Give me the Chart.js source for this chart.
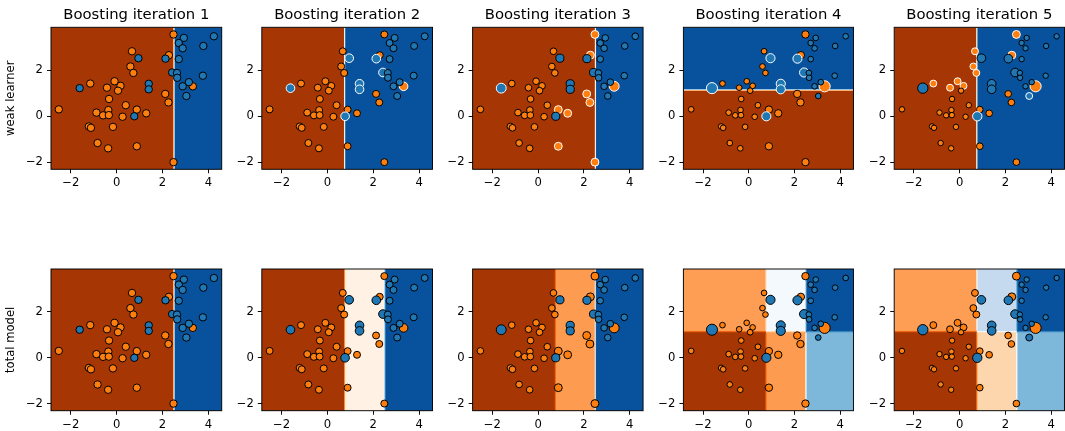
<!DOCTYPE html>
<html>
<head>
<meta charset="utf-8">
<script src="https://cdn.jsdelivr.net/npm/chart.js@4/dist/chart.umd.min.js"></script>
<style>
  html, body { margin: 0; padding: 0; background: #fff; }
  #fig { position: relative; width: 1065px; height: 431px; overflow: hidden; background: #fff; }
  #fig canvas { position: absolute; }
</style>
</head>
<body>
<div id="fig"></div>
<script>
// ---- data -------------------------------------------------------------
const xTicks = [-2, 0, 2, 4];
const yTicks = [-2, 0, 2];
const xRange = [-2.86, 4.58];
const yRange = [-2.30, 3.86];

// training samples (first 30: class 0 / orange, last 19: class 1 / blue)
const sampleX = [2.48, 0.67, 2.28, 0.60, 0.73, -1.15, -0.09, 0.17, -0.42, 0.06,
                 3.32, 2.12, 2.26, -0.33, 0.40, -2.52, -0.88, -0.36, -0.59, -0.34,
                 0.26, 0.88, 1.29, -1.21, -1.12, -0.16, -0.83, 0.88, -0.37, 2.48,
                 -1.61, 0.95, 2.13, 2.42, 2.63, 2.64, 3.15, 2.88, 3.04, 1.40,
                 1.40, 0.77, 2.93, 2.71, 2.88, 2.71, 3.78, 4.24, 3.76];
const sampleY = [3.55, 2.82, 2.65, 2.16, 1.88, 1.42, 1.52, 1.32, 1.24, 1.11,
                 1.30, 0.97, 0.60, 0.75, 0.48, 0.30, 0.16, 0.27, 0.04, 0.05,
                 -0.02, 0.29, 0.13, -0.44, -0.50, -0.46, -1.16, -1.30, -1.39, -1.99,
                 1.22, 2.52, 2.50, 1.90, 1.88, 1.67, 1.48, 1.30, 0.88, 1.41,
                 1.17, 0.00, 3.40, 3.18, 2.95, 2.48, 3.05, 3.47, 1.76];
const sampleClass = [0,0,0,0,0,0,0,0,0,0, 0,0,0,0,0,0,0,0,0,0, 0,0,0,0,0,0,0,0,0,0,
                     1,1,1,1,1,1,1,1,1,1, 1,1,1,1,1,1,1,1,1];

// relative sample weights at the start of each boosting iteration
const weights1 = Array.from({ length: 49 }, () => 1);
const weights2 = [0.89,0.89,0.89,0.89,0.89,0.89,0.89,0.89,0.89,0.89,
                  1.36,0.89,0.89,0.89,0.89,0.89,0.89,0.89,0.89,0.89,
                  0.89,0.89,0.89,0.89,0.89,0.89,0.89,0.89,0.89,0.89,
                  1.36,1.36,1.36,1.36,0.89,0.89,0.89,0.89,0.89,1.36,
                  1.36,1.36,0.89,0.89,0.89,0.89,0.89,0.89,0.89];
const weights3 = [1.14,0.81,1.14,0.81,0.81,0.81,0.81,0.81,0.81,0.81,
                  1.78,1.14,1.14,0.81,0.81,0.81,0.81,0.81,0.81,0.81,
                  0.81,1.14,1.14,0.81,0.81,0.81,0.81,1.14,0.81,1.14,
                  1.78,1.21,1.21,1.21,0.81,0.81,0.81,0.81,0.81,1.21,
                  1.21,1.21,0.81,0.81,0.81,0.81,0.81,0.81,0.81];
const weights4 = [1.00,0.59,1.00,0.59,0.59,0.59,0.59,0.59,0.59,0.59,
                  2.25,1.00,1.00,0.59,0.59,0.59,0.59,0.59,0.59,0.59,
                  0.59,1.00,1.00,0.59,0.59,0.59,0.59,1.00,0.59,1.00,
                  2.25,1.52,1.52,1.52,0.59,0.59,0.59,0.59,0.59,1.52,
                  1.52,1.52,0.59,0.59,0.59,0.59,0.59,0.59,0.59];
const weights5 = [1.14,0.87,1.14,0.87,0.87,0.87,0.87,0.87,0.87,0.54,
                  2.25,0.81,0.81,0.54,0.54,0.54,0.54,0.54,0.54,0.54,
                  0.54,0.81,0.81,0.54,0.54,0.54,0.54,0.81,0.54,0.81,
                  1.96,1.36,1.36,1.36,0.54,0.54,0.54,0.54,0.87,1.36,
                  1.36,1.60,0.54,0.54,0.54,0.54,0.54,0.54,0.54];
const roundWeights = [weights1, weights2, weights3, weights4, weights5];

// decision stumps: split feature (0 = x, 1 = y) and threshold; class 1 above
const stumpFeature = [0, 0, 0, 1, 0];
const stumpThreshold = [2.5, 0.75, 2.5, 1.14, 0.75];

// ensemble decision function: cell edges and normalized scores (rows bottom→top)
const modelXEdges = [[2.5], [0.75, 2.5], [0.75, 2.5], [0.75, 2.5], [0.75, 2.5]];
const modelYEdges = [[], [], [], [1.14], [1.14]];
const modelScores = [
  [[-1, 1]],
  [[-1, -0.03, 1]],
  [[-1, -0.51, 1]],
  [[-1, -0.51, 0.52], [-0.5, 0.02, 1]],
  [[-1, -0.25, 0.52], [-0.5, 0.29, 1]]
];

const rowNames = ['weak learner', 'total model'];

// ---- colours ------------------------------------------------------------
const ORANGES = [[255,245,235],[254,230,206],[253,208,162],[253,174,107],[253,141,60],
                 [241,105,19],[217,72,1],[166,54,3],[127,39,4]];
const BLUES = [[247,251,255],[222,235,247],[198,219,239],[158,202,225],[107,174,214],
               [66,146,198],[33,113,181],[8,81,156],[8,48,107]];
function ramp(stops, t) {
  const p = t * (stops.length - 1);
  const i = Math.min(Math.floor(p), stops.length - 2);
  const f = p - i;
  return stops[i].map((c, k) => Math.round(c + (stops[i + 1][k] - c) * f));
}
function scoreColor(s) {
  const t = Math.min(Math.abs(s), 1) * 0.875;
  const c = s < 0 ? ramp(ORANGES, t) : ramp(BLUES, t);
  return 'rgb(' + c.join(',') + ')';
}
const CLASS_COLORS = ['#ff7f0e', '#1f77b4'];

// ---- plugins ------------------------------------------------------------
const regionPlugin = {
  id: 'regions',
  beforeDatasetsDraw(chart, args, opts) {
    const R = opts.region;
    if (!R) return;
    const { ctx, chartArea: a, scales: { x, y } } = chart;
    ctx.save();
    ctx.beginPath();
    ctx.rect(a.left, a.top, a.width, a.height);
    ctx.clip();
    const xb = [xRange[0], ...R.xEdges, xRange[1]];
    const yb = [yRange[0], ...R.yEdges, yRange[1]];
    for (let j = 0; j < yb.length - 1; j++) {
      for (let i = 0; i < xb.length - 1; i++) {
        const x0 = x.getPixelForValue(xb[i]), x1 = x.getPixelForValue(xb[i + 1]);
        const y0 = y.getPixelForValue(yb[j + 1]), y1 = y.getPixelForValue(yb[j]);
        ctx.fillStyle = scoreColor(R.scores[j][i]);
        ctx.fillRect(x0, y0, x1 - x0 + 0.6, y1 - y0 + 0.6);
      }
    }
    // soft transitions where neighbouring cells meet
    const half = 0.05, n = 8;
    R.xEdges.forEach((e, i) => {
      for (let j = 0; j < yb.length - 1; j++) {
        const sA = R.scores[j][i], sB = R.scores[j][i + 1];
        const p0 = x.getPixelForValue(e - half), p1 = x.getPixelForValue(e + half);
        const g = ctx.createLinearGradient(p0, 0, p1, 0);
        for (let k = 0; k <= n; k++) g.addColorStop(k / n, scoreColor(sA + (sB - sA) * k / n));
        ctx.fillStyle = g;
        const q0 = y.getPixelForValue(yb[j + 1]), q1 = y.getPixelForValue(yb[j]);
        ctx.fillRect(p0, q0, p1 - p0, q1 - q0);
      }
    });
    R.yEdges.forEach((e, j) => {
      for (let i = 0; i < xb.length - 1; i++) {
        const sA = R.scores[j][i], sB = R.scores[j + 1][i];
        const p0 = y.getPixelForValue(e - half), p1 = y.getPixelForValue(e + half);
        const g = ctx.createLinearGradient(0, p0, 0, p1);
        for (let k = 0; k <= n; k++) g.addColorStop(k / n, scoreColor(sA + (sB - sA) * k / n));
        ctx.fillStyle = g;
        const q0 = x.getPixelForValue(xb[i]), q1 = x.getPixelForValue(xb[i + 1]);
        ctx.fillRect(q0, p1, q1 - q0, p0 - p1);
      }
    });
    ctx.restore();
  },
  afterDatasetsDraw(chart) {
    const { ctx, chartArea: a } = chart;
    ctx.save();
    ctx.strokeStyle = '#000';
    ctx.lineWidth = 0.95;
    ctx.strokeRect(a.left, a.top, a.width, a.height);
    ctx.restore();
  }
};

function tickText(v) { return v < 0 ? '\u2212' + Math.abs(v) : String(v); }

// ---- layout -------------------------------------------------------------
const PLOT_LEFT0 = 51, PITCH = 210.8, PLOT_W = 170.7;
const ROWS = [
  { canvasTop: 0, canvasH: 195, plotTop: 27.3, plotBottom: 169.3 },
  { canvasTop: 240, canvasH: 191, plotTop: 269, plotBottom: 410.7 }
];
const fig = document.getElementById('fig');
const FONT = 'DejaVu Sans';

function regionFor(row, k) {
  if (row === 0) {
    const t = stumpThreshold[k];
    return stumpFeature[k] === 0
      ? { xEdges: [t], yEdges: [], scores: [[-1, 1]] }
      : { xEdges: [], yEdges: [t], scores: [[-1], [1]] };
  }
  return { xEdges: modelXEdges[k], yEdges: modelYEdges[k], scores: modelScores[k] };
}

for (let row = 0; row < 2; row++) {
  for (let k = 0; k < 5; k++) {
    const R = ROWS[row];
    const plotLeft = PLOT_LEFT0 + PITCH * k;
    const canvasLeft = Math.floor(plotLeft) - 51;
    const yW = plotLeft - canvasLeft;
    const canvasW = 228;
    const padRight = canvasW - yW - PLOT_W;
    const xH = R.canvasH - (R.plotBottom - R.canvasTop);
    const padTop = row === 0 ? 0 : R.plotTop - R.canvasTop;

    const cv = document.createElement('canvas');
    cv.width = canvasW; cv.height = R.canvasH;
    cv.style.left = canvasLeft + 'px'; cv.style.top = R.canvasTop + 'px';
    cv.style.width = canvasW + 'px'; cv.style.height = R.canvasH + 'px';
    fig.appendChild(cv);

    const w = roundWeights[k];
    const pts = sampleX.map((vx, i) => ({ x: vx, y: sampleY[i] }));
    const fill = sampleClass.map(c => CLASS_COLORS[c]);
    const radius = w.map(v => 3.7 * Math.sqrt(v));
    // top row: samples the previous stump got wrong are outlined in white
    const edge = sampleClass.map((c, i) => {
      if (row === 1 || k === 0) return '#000';
      const f = stumpFeature[k - 1];
      const v = f === 0 ? sampleX[i] : sampleY[i];
      const pred = v > stumpThreshold[k - 1] ? 1 : 0;
      return pred !== c ? '#fff' : '#000';
    });

    new Chart(cv, {
      type: 'scatter',
      data: {
        datasets: [{
          data: pts,
          pointRadius: radius,
          pointHoverRadius: radius,
          pointBackgroundColor: fill,
          pointBorderColor: edge,
          pointBorderWidth: 1,
          showLine: false
        }]
      },
      options: {
        responsive: false,
        animation: false,
        events: [],
        layout: { padding: { top: padTop, right: padRight, left: 0, bottom: 0 } },
        plugins: {
          legend: { display: false },
          tooltip: { enabled: false },
          title: {
            display: row === 0,
            fullSize: false,
            text: 'Boosting iteration ' + (k + 1),
            color: '#000',
            font: { family: FONT, size: 14.8, weight: 'normal' },
            padding: { top: 6.4, bottom: 3.14 }
          },
          regions: { region: regionFor(row, k) }
        },
        scales: {
          x: {
            type: 'linear', min: xRange[0], max: xRange[1],
            afterBuildTicks(s) { s.ticks = xTicks.map(v => ({ value: v })); },
            afterFit(s) { s.height = xH; },
            border: { display: false },
            grid: { display: true, drawOnChartArea: false, drawTicks: true, tickLength: 4, tickWidth: 0.95, tickColor: '#000' },
            ticks: { padding: 3, color: '#000', font: { family: FONT, size: 11.6 }, maxRotation: 0, autoSkip: false, callback: tickText }
          },
          y: {
            type: 'linear', min: yRange[0], max: yRange[1],
            afterBuildTicks(s) { s.ticks = yTicks.map(v => ({ value: v })); },
            afterFit(s) { s.width = yW; },
            border: { display: false },
            grid: { display: true, drawOnChartArea: false, drawTicks: true, tickLength: 4, tickWidth: 0.95, tickColor: '#000' },
            ticks: { padding: 4, color: '#000', font: { family: FONT, size: 11.6 }, autoSkip: false, callback: tickText },
            title: {
              display: k === 0,
              text: rowNames[row],
              color: '#000',
              font: { family: FONT, size: 11.6 },
              padding: { top: 4, bottom: 0 }
            }
          }
        }
      },
      plugins: [regionPlugin]
    });
  }
}
</script>
</body>
</html>
